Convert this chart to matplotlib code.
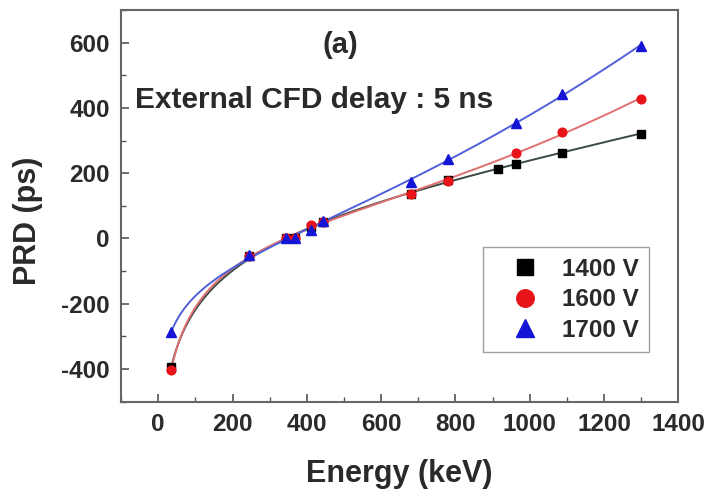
import numpy as np
import matplotlib
matplotlib.use("Agg")
import matplotlib.pyplot as plt
from matplotlib.ticker import MultipleLocator

# ---- data ----
energy_1400 = [35, 245, 344, 367, 411, 444, 680, 779, 916, 964, 1086, 1300]
prd_1400 = [-395, -55, 0, 2, 35, 52, 137, 178, 214, 229, 263, 321]

energy_1600 = [35, 245, 344, 367, 411, 444, 680, 779, 964, 1086, 1300]
prd_1600 = [-402, -55, 0, 2, 40, 52, 137, 177, 263, 327, 427]

energy_1700 = [35, 245, 344, 367, 411, 444, 680, 779, 964, 1086, 1300]
prd_1700 = [-287, -52, 0, 2, 27, 55, 174, 244, 355, 443, 589]

labels = ["1400 V", "1600 V", "1700 V"]
x_ticks = [0, 200, 400, 600, 800, 1000, 1200, 1400]
y_ticks = [-400, -200, 0, 200, 400, 600]

plt.rcParams['font.family'] = ['Liberation Sans', 'DejaVu Sans']
plt.rcParams['font.weight'] = 'bold'
plt.rcParams['axes.unicode_minus'] = False
TXT = '#2a2a2a'

fig = plt.figure(figsize=(7.08, 4.96), dpi=100)
ax = fig.add_axes([0.171, 0.19, 0.787, 0.79])


def fit_curve(x, y):
    x = np.asarray(x, float)
    y = np.asarray(y, float)
    A = np.column_stack([np.ones_like(x), np.log(x), x, x ** 2])
    coef, *_ = np.linalg.lstsq(A, y, rcond=None)
    xs = np.linspace(x.min(), x.max(), 400)
    B = np.column_stack([np.ones_like(xs), np.log(xs), xs, xs ** 2])
    return xs, B @ coef


series = [
    (energy_1400, prd_1400, 's', 'black', '#3b4a44', 5.5),
    (energy_1600, prd_1600, 'o', '#e8141a', '#e07070', 6.3),
    (energy_1700, prd_1700, '^', '#1515d8', '#5060d8', 6.5),
]

handles = []
for (x, y, m, mc, lc, ms), lab in zip(series, labels):
    xs, ys = fit_curve(x, y)
    ax.plot(xs, ys, color=lc, lw=1.4, zorder=2)
    h, = ax.plot(x, y, ls='none', marker=m, color=mc, ms=ms, mec=mc, zorder=3, label=lab)
    handles.append(h)

ax.set_xlim(-100, 1400)
ax.set_ylim(-500, 700)
ax.set_xticks(x_ticks)
ax.set_yticks(y_ticks)
ax.xaxis.set_minor_locator(MultipleLocator(100))
ax.yaxis.set_minor_locator(MultipleLocator(100))
ax.tick_params(which='major', direction='in', length=6, width=1.2, color='#555555',
               labelsize=17.5, labelcolor=TXT, pad=8)
ax.tick_params(which='minor', direction='in', length=3.5, width=1.0, color='#555555')
for lab in ax.get_xticklabels() + ax.get_yticklabels():
    lab.set_fontweight('bold')
for s in ax.spines.values():
    s.set_color('#666666')
    s.set_linewidth(1.5)

ax.set_xlabel('Energy (keV)', fontsize=22, fontweight='bold', color=TXT, labelpad=17)
ax.set_ylabel('PRD (ps)', fontsize=22, fontweight='bold', color=TXT)
ax.yaxis.set_label_coords(-0.14, 0.462)

ax.text(0.393, 0.91, '(a)', transform=ax.transAxes, fontsize=21, fontweight='bold',
        color=TXT, ha='center', va='center')
ax.text(0.025, 0.77, 'External CFD delay : 5 ns', transform=ax.transAxes, fontsize=21.5,
        fontweight='bold', color=TXT, ha='left', va='center')

leg = ax.legend(handles=handles, loc='upper right', bbox_to_anchor=(0.948, 0.395),
                markerscale=2.0, fontsize=17.5, frameon=True, fancybox=False,
                edgecolor='#888888', handlelength=2.6, handletextpad=0.2,
                borderpad=0.45, labelspacing=0.3, borderaxespad=0)
leg.get_frame().set_linewidth(1.0)
for t in leg.get_texts():
    t.set_color(TXT)
    t.set_fontweight('bold')

fig.savefig('out.png', dpi=100)
